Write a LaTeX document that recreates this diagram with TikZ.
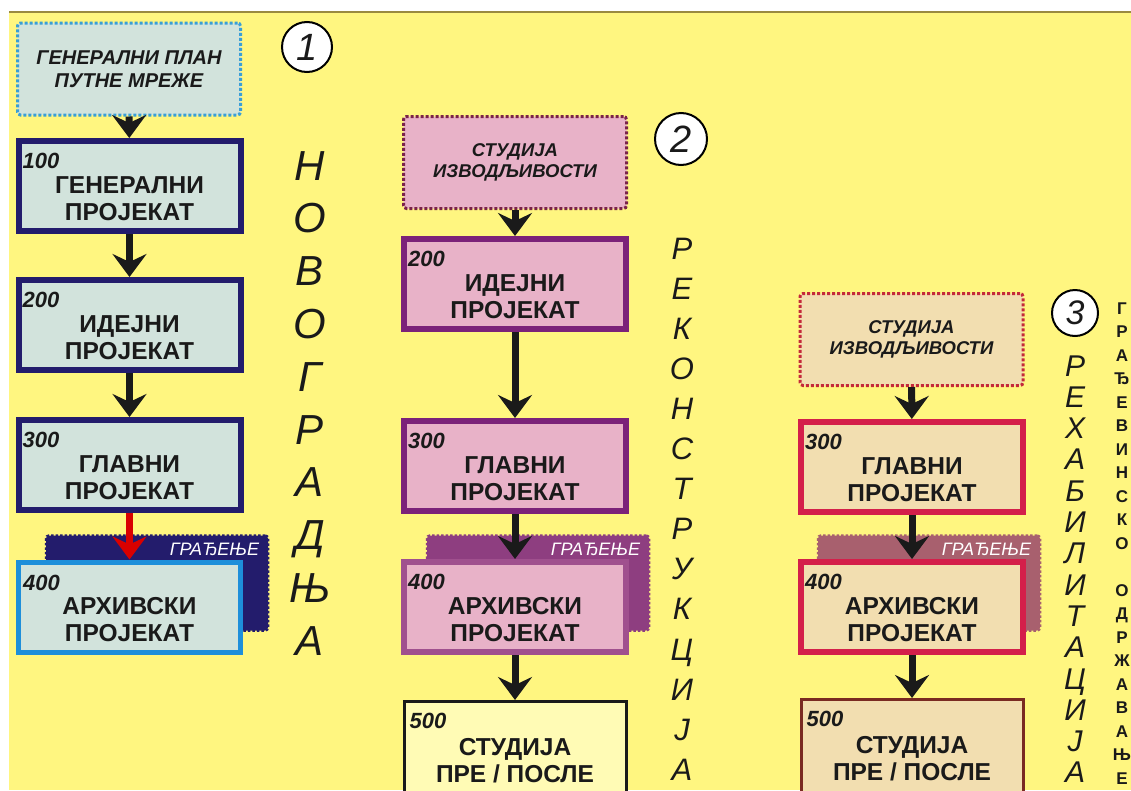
\documentclass[tikz,border=0pt]{standalone}
\usepackage{fontspec}
\setmainfont{Liberation Sans}
\usetikzlibrary{arrows.meta}

\definecolor{paper}{HTML}{FFF680}
\definecolor{rim}{HTML}{9A8A40}
\definecolor{ink}{HTML}{1A1A1A}
% column 1 colours
\definecolor{mint}{HTML}{D2E3DC}
\definecolor{navy}{HTML}{231C6C}
\definecolor{sky}{HTML}{1E8FDA}
\definecolor{skydot}{HTML}{3A9FD6}
% column 2 colours
\definecolor{rose}{HTML}{E8B2C8}
\definecolor{plum}{HTML}{7B2279}
\definecolor{mauve}{HTML}{A0508E}
\definecolor{plumdot}{HTML}{7A2248}
\definecolor{plumshd}{HTML}{8E3E80}
\definecolor{lemon}{HTML}{FFFBB5}
% column 3 colours
\definecolor{sand}{HTML}{F2DEB0}
\definecolor{crimson}{HTML}{D41F4A}
\definecolor{reddot}{HTML}{C42A3A}
\definecolor{brick}{HTML}{7A2A22}
\definecolor{dustshd}{HTML}{A8606E}

\tikzset{
  box/.style={draw, line width=6, minimum width=222, minimum height=90, inner sep=0},
  boxtxt/.style={font=\bfseries\fontsize{24.5}{27}\selectfont, align=center, text=ink, inner sep=0, yshift=-13},
  num/.style={font=\bfseries\itshape\fontsize{22}{22}\selectfont, text=ink, anchor=north west, inner sep=0, xshift=7, yshift=-15},
  plan/.style={draw, dotted, line width=3, rounded corners=3, minimum width=223, minimum height=92, inner sep=0,
    align=center, text=ink, font=\bfseries\itshape\fontsize{20}{23}\selectfont},
  backing/.style={draw, dotted, line width=2.5, rounded corners=3, minimum width=222, minimum height=95, inner sep=0},
  build/.style={font=\itshape\fontsize{18}{18}\selectfont, text=white, anchor=north east, inner sep=0, xshift=-10, yshift=-9},
  flow/.style={line width=7, ink, -{Stealth[length=23, width=34, inset=8]}},
  badge/.style={circle, draw, line width=2, fill=white, inner sep=0, text=ink, font=\itshape\fontsize{38}{38}\selectfont},
  bigch/.style={anchor=base, text=ink, inner sep=0},
  smallch/.style={anchor=base, text=ink, inner sep=0, font=\bfseries\fontsize{17}{17}\selectfont}
}

\begin{document}
\begin{tikzpicture}[x=1pt,y=-1pt]
 \useasboundingbox (0,0) rectangle (1131,790);
 \fill[white] (0,0) rectangle (1131,790);
 \fill[paper] (9,12) rectangle (1131,790);
 \draw[rim, line width=1.5] (9,12) -- (1131,12); % top edge

 % construction backings (drawn first, under the 400 boxes)
 \node[backing, fill=navy, draw=navy, label={[build]north east:ГРАЂЕЊЕ}] (sh1) at (157,583) {};
 \node[backing, fill=plumshd, draw=plumshd, label={[build]north east:ГРАЂЕЊЕ}] (sh2) at (538,583) {};
 \node[backing, fill=dustshd, draw=dustshd, label={[build]north east:ГРАЂЕЊЕ}] (sh3) at (929,583) {};

 % column 1 - new construction
 \node[plan, fill=mint, draw=skydot] (plan1) at (129,69) {ГЕНЕРАЛНИ ПЛАН\\ПУТНЕ МРЕЖЕ};
 \node[box, fill=mint, draw=navy, label={[num]north west:100}, label={[boxtxt]center:ГЕНЕРАЛНИ\\ПРОЈЕКАТ}] (b100) at (129.5,186) {};
 \node[box, fill=mint, draw=navy, label={[num]north west:200}, label={[boxtxt]center:ИДЕЈНИ\\ПРОЈЕКАТ}] (b200) at (129.5,325) {};
 \node[box, fill=mint, draw=navy, label={[num]north west:300}, label={[boxtxt]center:ГЛАВНИ\\ПРОЈЕКАТ}] (b300) at (129.5,465) {};
 \node[box, line width=5, fill=mint, draw=sky, label={[num]north west:400}, label={[boxtxt]center:АРХИВСКИ\\ПРОЈЕКАТ}] (b400) at (129.5,607) {};

 \draw[flow] (plan1) -- (b100);
 \draw[flow] (b100) -- (b200);
 \draw[flow] (b200) -- (b300);
 \draw[flow, draw=red!85!black] (b300) -- (b400); % red step into construction

 % column 2 - reconstruction
 \node[plan, fill=rose, draw=plumdot, font=\bfseries\itshape\fontsize{18.5}{21}\selectfont] (plan2) at (515,162.5) {СТУДИЈА\\ИЗВОДЉИВОСТИ};
 \node[box, fill=rose, draw=plum, label={[num]north west:200}, label={[boxtxt]center:ИДЕЈНИ\\ПРОЈЕКАТ}] (c200) at (515,284) {};
 \node[box, fill=rose, draw=plum, label={[num]north west:300}, label={[boxtxt]center:ГЛАВНИ\\ПРОЈЕКАТ}] (c300) at (515,466) {};
 \node[box, fill=rose, draw=mauve, label={[num]north west:400}, label={[boxtxt]center:АРХИВСКИ\\ПРОЈЕКАТ}] (c400) at (515,607) {};
 \node[box, line width=3, minimum height=93, fill=lemon, draw=ink, label={[num, yshift=2]north west:500}, label={[boxtxt]center:СТУДИЈА\\ПРЕ / ПОСЛЕ}] (c500) at (515,748) {};

 \draw[flow] (plan2) -- (c200);
 \draw[flow] (c200) -- (c300);
 \draw[flow] (c300) -- (c400);
 \draw[flow] (c400) -- (c500);

 % column 3 - rehabilitation
 \node[plan, fill=sand, draw=reddot, font=\bfseries\itshape\fontsize{18.5}{21}\selectfont] (plan3) at (911.5,339.5) {СТУДИЈА\\ИЗВОДЉИВОСТИ};
 \node[box, fill=sand, draw=crimson, label={[num]north west:300}, label={[boxtxt]center:ГЛАВНИ\\ПРОЈЕКАТ}] (d300) at (912,467) {};
 \node[box, fill=sand, draw=crimson, label={[num]north west:400}, label={[boxtxt]center:АРХИВСКИ\\ПРОЈЕКАТ}] (d400) at (912,607) {};
 \node[box, line width=3, minimum height=93, fill=sand, draw=brick, label={[num, yshift=2]north west:500}, label={[boxtxt]center:СТУДИЈА\\ПРЕ / ПОСЛЕ}] (d500) at (912,746) {};

 \draw[flow] (plan3) -- (d300);
 \draw[flow] (d300) -- (d400);
 \draw[flow] (d400) -- (d500);

 % numbered badges
 \node[badge, minimum size=50] (one) at (307,47) {1};
 \node[badge, minimum size=52] (two) at (681,139) {2};
 \node[badge, minimum size=46, font=\itshape\fontsize{34}{34}\selectfont] (three) at (1075,313) {3};

 % vertical captions
 \foreach \ch [count=\i from 0] in {Н,О,В,О,Г,Р,А,Д,Њ,А}
   \node[bigch, font=\itshape\fontsize{42}{42}\selectfont] (nov\i) at (310,180+52.8*\i) {\ch};
 \foreach \ch [count=\i from 0] in {Р,Е,К,О,Н,С,Т,Р,У,К,Ц,И,Ј,А}
   \node[bigch, font=\itshape\fontsize{31}{31}\selectfont] (rek\i) at (682,259+40.1*\i) {\ch};
 \foreach \ch [count=\i from 0] in {Р,Е,Х,А,Б,И,Л,И,Т,А,Ц,И,Ј,А}
   \node[bigch, font=\itshape\fontsize{30}{30}\selectfont] (reh\i) at (1075,376+31.3*\i) {\ch};

 % small side caption
 \foreach \ch [count=\i from 0] in {Г,Р,А,Ђ,Е,В,И,Н,С,К,О}
   \node[smallch] (gr\i) at (1122,314+23.5*\i) {\ch};
 \foreach \ch [count=\i from 12] in {О,Д,Р,Ж,А,В,А,Њ,Е}
   \node[smallch] (od\i) at (1122,314+23.5*\i) {\ch};

\end{tikzpicture}
\end{document}
